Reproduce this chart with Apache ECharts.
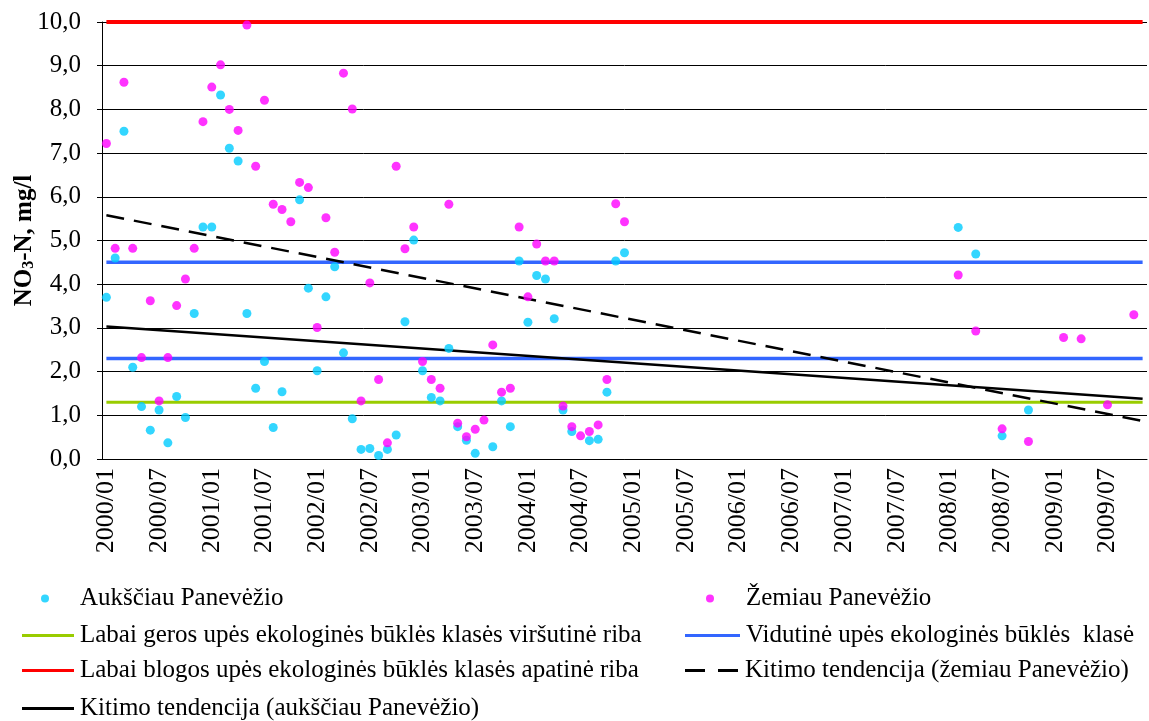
<!DOCTYPE html>
<html>
<head>
<meta charset="utf-8">
<title>NO3-N</title>
<script src="https://cdn.jsdelivr.net/npm/echarts@6/dist/echarts.min.js"></script>
<style>
  html, body { margin: 0; padding: 0; background: #fff; }
  #chart { width: 1149px; height: 721px; }
</style>
</head>
<body>
<div id="chart"></div>
<script>
// x categories: every month 2000/01 ... 2009/11
var months = []
for (var yr = 2000; yr <= 2009; yr++) {
  for (var mo = 1; mo <= 12; mo++) {
    if (yr === 2009 && mo > 11) break
    months.push(yr + '/' + (mo < 10 ? '0' + mo : mo))
  }
}

// Aukščiau Panevėžio
var aukDates = [
  '2000/01', '2000/02', '2000/03', '2000/04', '2000/05', '2000/06', '2000/07', '2000/08', '2000/09', '2000/10', '2000/11', '2000/12',
  '2001/01', '2001/02', '2001/03', '2001/04', '2001/05', '2001/06', '2001/07', '2001/08', '2001/09', '2001/11', '2001/12',
  '2002/01', '2002/02', '2002/03', '2002/04', '2002/05', '2002/06', '2002/07', '2002/08', '2002/09', '2002/10', '2002/11', '2002/12',
  '2003/01', '2003/02', '2003/03', '2003/04', '2003/05', '2003/06', '2003/07', '2003/09', '2003/10', '2003/11', '2003/12',
  '2004/01', '2004/02', '2004/03', '2004/04', '2004/05', '2004/06', '2004/08', '2004/09', '2004/10', '2004/11', '2004/12',
  '2008/02', '2008/04', '2008/07', '2008/10'
]
var aukValues = [
  3.7, 4.6, 7.5, 2.1, 1.2, 0.66, 1.12, 0.37, 1.43, 0.95, 3.33, 5.31,
  5.31, 8.33, 7.11, 6.82, 3.33, 1.62, 2.23, 0.72, 1.54, 5.93, 3.91,
  2.02, 3.71, 4.4, 2.43, 0.92, 0.22, 0.24, 0.08, 0.22, 0.55, 3.14, 5.01,
  2.02, 1.41, 1.33, 2.53, 0.74, 0.43, 0.13, 0.28, 1.33, 0.74, 4.53,
  3.13, 4.2, 4.12, 3.21, 1.12, 0.63, 0.42, 0.45, 1.53, 4.53, 4.72,
  5.3, 4.69, 0.53, 1.12
]

// Žemiau Panevėžio
var zemDates = [
  '2000/01', '2000/02', '2000/03', '2000/04', '2000/05', '2000/06', '2000/07', '2000/08', '2000/09', '2000/10', '2000/11', '2000/12',
  '2001/01', '2001/02', '2001/03', '2001/04', '2001/05', '2001/06', '2001/07', '2001/08', '2001/09', '2001/10', '2001/11', '2001/12',
  '2002/01', '2002/02', '2002/03', '2002/04', '2002/05', '2002/06', '2002/07', '2002/08', '2002/09', '2002/10', '2002/11', '2002/12',
  '2003/01', '2003/02', '2003/03', '2003/04', '2003/05', '2003/06', '2003/07', '2003/08', '2003/09', '2003/10', '2003/11', '2003/12',
  '2004/01', '2004/02', '2004/03', '2004/04', '2004/05', '2004/06', '2004/07', '2004/08', '2004/09', '2004/10', '2004/11', '2004/12',
  '2008/02', '2008/04', '2008/07', '2008/10', '2009/02', '2009/04', '2009/07', '2009/10'
]
var zemValues = [
  7.22, 4.82, 8.62, 4.82, 2.32, 3.62, 1.33, 2.32, 3.51, 4.12, 4.82, 7.72,
  8.51, 9.02, 8.0, 7.52, 9.93, 6.7, 8.21, 5.83, 5.71, 5.43, 6.33, 6.21,
  3.01, 5.52, 4.73, 8.83, 8.01, 1.33, 4.03, 1.82, 0.37, 6.7, 4.81, 5.31,
  2.23, 1.82, 1.62, 5.83, 0.82, 0.51, 0.68, 0.89, 2.61, 1.53, 1.62, 5.31,
  3.71, 4.92, 4.53, 4.53, 1.21, 0.74, 0.53, 0.63, 0.78, 1.82, 5.84, 5.43,
  4.21, 2.93, 0.69, 0.4, 2.78, 2.75, 1.24, 3.3
]

// class limits (constant lines)
var goodLimit = 1.3
var mediumLimits = [2.3, 4.5]
var badLimit = 10

// trend lines: value at first and last month
var trendAuk = [3.03, 1.38]
var trendZem = [5.58, 0.87]

var FONT = '"Liberation Serif", "Times New Roman", serif'
var first = months[0]
var last = months[months.length - 1]

var NAME_AUK = 'Aukščiau Panevėžio'
var NAME_ZEM = 'Žemiau Panevėžio'
var NAME_GOOD = 'Labai geros upės ekologinės būklės klasės viršutinė riba'
var NAME_MID = 'Vidutinė upės ekologinės būklės  klasė'
var NAME_BAD = 'Labai blogos upės ekologinės būklės klasės apatinė riba'
var NAME_TZEM = 'Kitimo tendencija (žemiau Panevėžio)'
var NAME_TAUK = 'Kitimo tendencija (aukščiau Panevėžio)'

function pairs(dates, values) {
  return dates.map(function(d, i) { return [d, values[i]] })
}
function flat(v) {
  return [[first, v], [last, v]]
}
function lineSeries(name, data, color, width, type) {
  return {
    name: name,
    type: 'line',
    data: data,
    symbol: 'none',
    silent: true,
    z: 2,
    lineStyle: { color: color, width: width, type: type || 'solid' },
    itemStyle: { color: color }
  }
}

// one legend per entry so every row sits where it does in the picture
var SOLID = 'path://M0,0H52V3H0Z'
var DASHED = 'path://M0,0H20V3H0Z M33,0H53V3H33Z'
function legendItem(name, left, top, icon, w, h, textPad) {
  return {
    left: left,
    top: top,
    padding: 0,
    itemWidth: w,
    itemHeight: h,
    itemGap: 0,
    textStyle: { fontFamily: FONT, fontSize: 25, color: '#000', padding: [0, 0, 0, textPad || 1] },
    data: [{ name: name, icon: icon }]
  }
}

var chart = echarts.init(document.getElementById('chart'))

chart.setOption({
  animation: false,
  backgroundColor: '#fff',
  grid: { left: 102, right: 2, top: 22, bottom: 262 },
  legend: [
    legendItem(NAME_AUK, 41, 586, 'circle', 8, 8, 26),
    legendItem(NAME_GOOD, 22, 623, SOLID, 52, 3),
    legendItem(NAME_BAD, 22, 658, SOLID, 52, 4),
    legendItem(NAME_TAUK, 22, 696, SOLID, 52, 3),
    legendItem(NAME_ZEM, 706, 586, 'circle', 8, 8, 27),
    legendItem(NAME_MID, 685, 623, SOLID, 55, 4),
    legendItem(NAME_TZEM, 685, 658, DASHED, 55, 3)
  ],
  xAxis: {
    type: 'category',
    data: months,
    boundaryGap: true,
    axisLine: { lineStyle: { color: '#000', width: 1 } },
    axisTick: { interval: 0, length: 5, lineStyle: { color: '#000' } },
    axisLabel: {
      interval: 5,
      rotate: 90,
      margin: 9,
      fontFamily: FONT,
      fontSize: 26,
      color: '#000'
    },
    splitLine: { show: false }
  },
  yAxis: {
    type: 'value',
    min: 0,
    max: 10,
    interval: 1,
    name: '{b|NO}{s|3}{b|-N, mg/l}',
    nameLocation: 'middle',
    nameGap: 65,
    nameMoveOverlap: false,
    nameTextStyle: {
      rich: {
        b: { fontFamily: FONT, fontSize: 25, fontWeight: 'bold', color: '#000' },
        s: { fontFamily: FONT, fontSize: 16, fontWeight: 'bold', color: '#000', verticalAlign: 'bottom', padding: [8, 0, 0, 0] }
      }
    },
    axisLine: { show: true, lineStyle: { color: '#000', width: 1 } },
    axisTick: { show: true, length: 5, lineStyle: { color: '#000' } },
    axisLabel: {
      margin: 21,
      fontFamily: FONT,
      fontSize: 25,
      color: '#000',
      formatter: function(v) { return v.toFixed(1).replace('.', ',') }
    },
    splitLine: { show: true, lineStyle: { color: '#000', width: 1 } }
  },
  series: [
    lineSeries(NAME_GOOD, flat(goodLimit), '#99CC00', 3),
    lineSeries(NAME_MID, flat(mediumLimits[0]), '#3366FF', 3.5),
    lineSeries(NAME_MID, flat(mediumLimits[1]), '#3366FF', 3.5),
    lineSeries(NAME_BAD, flat(badLimit), '#FF0000', 4),
    lineSeries(NAME_TZEM, [[first, trendZem[0]], [last, trendZem[1]]], '#000', 2.5, [18, 10]),
    lineSeries(NAME_TAUK, [[first, trendAuk[0]], [last, trendAuk[1]]], '#000', 2.5),
    {
      name: NAME_AUK,
      type: 'scatter',
      data: pairs(aukDates, aukValues),
      symbol: 'circle',
      symbolSize: 9,
      z: 3,
      itemStyle: { color: '#00CCFF' }
    },
    {
      name: NAME_ZEM,
      type: 'scatter',
      data: pairs(zemDates, zemValues),
      symbol: 'circle',
      symbolSize: 9,
      z: 4,
      itemStyle: { color: '#FF00FF' }
    }
  ]
})
</script>
</body>
</html>
